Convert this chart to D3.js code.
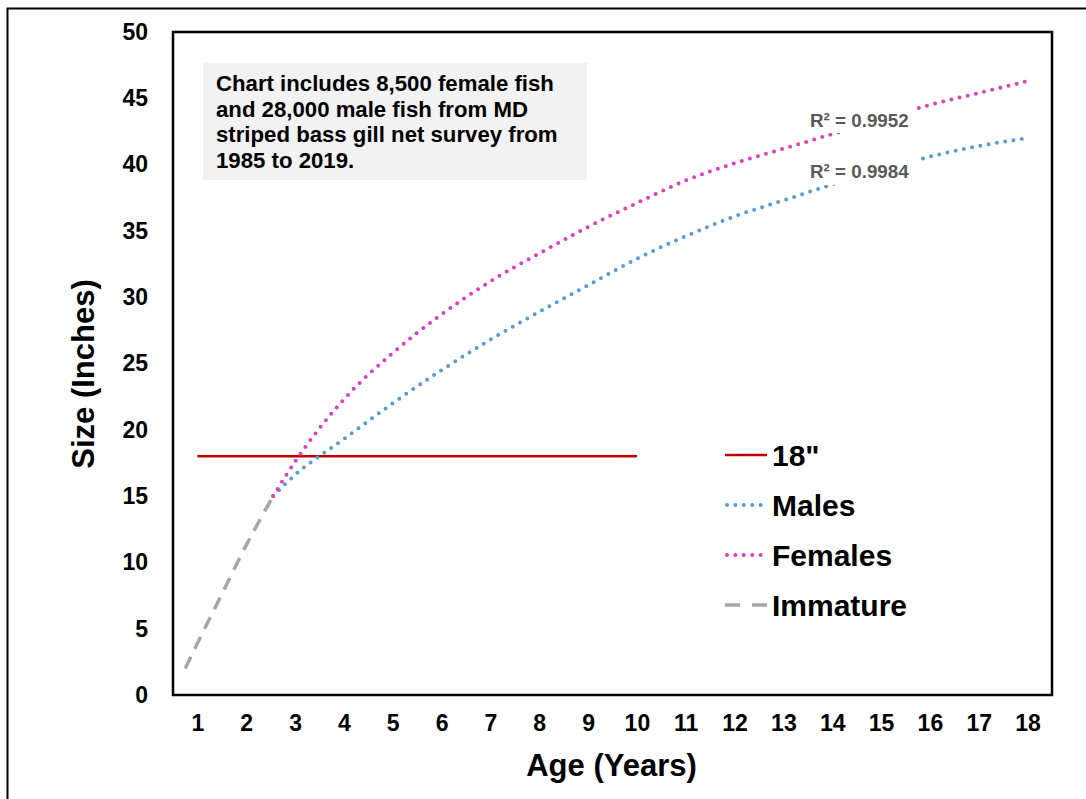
<!DOCTYPE html>
<html>
<head>
<meta charset="utf-8">
<script src="https://cdn.jsdelivr.net/npm/d3@7.9.0/dist/d3.min.js"></script>
<style>
  body { margin: 0; background: #fff; }
  svg { display: block; font-family: Arial, "Liberation Sans", sans-serif; }
</style>
</head>
<body>
<div id="chart"></div>
<script>
// ages on the x axis
const xTicks = d3.range(1, 19);
const yTicks = d3.range(0, 51, 5);

// fitted growth curves (inches)
const curveAges = [2.55, 3, 4, 5, 6, 7, 8, 9, 10, 11, 12, 13, 14, 15, 16, 17, 18];
const femaleSize = [15.0, 17.6, 22.3, 25.8, 28.7, 31.2, 33.3, 35.3, 37.1, 38.8, 40.1, 41.2, 42.3, 43.4, 44.5, 45.4, 46.3];
const maleSize = [15.0, 16.6, 19.3, 22.0, 24.5, 26.8, 28.9, 30.9, 32.9, 34.6, 36.1, 37.3, 38.5, 39.6, 40.6, 41.4, 42.0];

const immatureAges = [0.75, 1, 1.5, 2, 2.55];
const immatureSize = [2.0, 3.9, 7.6, 11.3, 15.0];

const limitAges = [1, 10];
const limitSize = [18, 18];

const rSquared = ['R² = 0.9952', 'R² = 0.9984'];
const legendLabels = ['18"', 'Males', 'Females', 'Immature'];
const note = [
  'Chart includes 8,500 female fish',
  'and 28,000 male fish from MD',
  'striped bass gill net survey from',
  '1985 to 2019.',
];

const width = 1086;
const height = 799;
const area = { left: 173, right: 1052, top: 32, bottom: 695 };

const colors = { limit: '#c00000', male: '#5b9bd5', female: '#dd3fbf', immature: '#a6a6a6' };

const svg = d3.select('#chart')
  .append('svg')
  .attr('width', width)
  .attr('height', height);

// outer frame (only top/left edges visible in the source)
svg.append('rect')
  .attr('x', 7.5).attr('y', 8.5)
  .attr('width', 1200).attr('height', 1000)
  .attr('fill', 'none').attr('stroke', '#000').attr('stroke-width', 2);

const x = d3.scaleLinear().domain([0.5, 18.5]).range([area.left, area.right]);
const y = d3.scaleLinear().domain([0, 50]).range([area.bottom, area.top]);

// y axis labels
const yAxis = svg.append('g')
  .attr('transform', `translate(${area.left - 25}, 0)`)
  .call(d3.axisLeft(y).tickValues(yTicks).tickSize(0).tickPadding(0));
yAxis.select('.domain').remove();
yAxis.selectAll('text')
  .attr('font-size', 23).attr('font-weight', 'bold')
  .attr('font-family', 'Arial, "Liberation Sans", sans-serif')
  .attr('fill', '#000');

// x axis labels
const xAxis = svg.append('g')
  .attr('transform', `translate(0, ${area.bottom + 20})`)
  .call(d3.axisBottom(x).tickValues(xTicks).tickSize(0).tickPadding(0).tickFormat(d3.format('d')));
xAxis.select('.domain').remove();
xAxis.selectAll('text')
  .attr('font-size', 23).attr('font-weight', 'bold')
  .attr('font-family', 'Arial, "Liberation Sans", sans-serif')
  .attr('fill', '#000');

// axis titles
svg.append('text')
  .attr('x', (area.left + area.right) / 2 - 1)
  .attr('y', 776)
  .attr('text-anchor', 'middle')
  .attr('font-size', 31).attr('font-weight', 'bold')
  .text('Age (Years)');

svg.append('text')
  .attr('transform', `translate(94, ${374}) rotate(-90)`)
  .attr('text-anchor', 'middle')
  .attr('font-size', 31).attr('font-weight', 'bold')
  .text('Size (Inches)');

// note box
const noteG = svg.append('g');
noteG.append('rect')
  .attr('x', 203).attr('y', 63)
  .attr('width', 384).attr('height', 117)
  .attr('fill', '#f2f2f2');
noteG.selectAll('text')
  .data(note)
  .join('text')
  .attr('x', 216)
  .attr('y', (d, i) => 91 + i * 25.5)
  .attr('font-size', 22.2).attr('font-weight', 'bold')
  .text((d) => d);

const line = d3.line()
  .x((d) => x(d[0]))
  .y((d) => y(d[1]))
  .curve(d3.curveMonotoneX);

// 18" limit
svg.append('path')
  .attr('d', line(d3.zip(limitAges, limitSize)))
  .attr('fill', 'none').attr('stroke', colors.limit).attr('stroke-width', 2.5);

// immature
svg.append('path')
  .attr('d', line(d3.zip(immatureAges, immatureSize)))
  .attr('fill', 'none').attr('stroke', colors.immature)
  .attr('stroke-width', 3.5).attr('stroke-dasharray', '13 9');

// males / females dotted curves
const dotted = (sel, color) => sel
  .attr('fill', 'none').attr('stroke', color)
  .attr('stroke-width', 4).attr('stroke-linecap', 'round')
  .attr('stroke-dasharray', '0 8.4');

svg.append('path')
  .attr('d', line(d3.zip(curveAges, maleSize)))
  .call(dotted, colors.male);

svg.append('path')
  .attr('d', line(d3.zip(curveAges, femaleSize)))
  .call(dotted, colors.female);

// R² labels with white backing
const rBoxes = [
  { y0: 100, y1: 133, base: 127 },
  { y0: 150, y1: 185, base: 178 },
];
rBoxes.forEach((b, i) => {
  svg.append('rect')
    .attr('x', 805).attr('y', b.y0)
    .attr('width', 112).attr('height', b.y1 - b.y0)
    .attr('fill', '#fff');
  svg.append('text')
    .attr('x', 810).attr('y', b.base)
    .attr('font-size', 18.8).attr('font-weight', 'bold')
    .attr('fill', '#595959')
    .text(rSquared[i]);
});

// plot frame
svg.append('rect')
  .attr('x', area.left).attr('y', area.top)
  .attr('width', area.right - area.left).attr('height', area.bottom - area.top)
  .attr('fill', 'none').attr('stroke', '#000').attr('stroke-width', 2.5);

// legend
const legendStyles = [
  { color: colors.limit, width: 2.5, dash: null, cap: 'butt' },
  { color: colors.male, width: 4, dash: '0 8.4', cap: 'round' },
  { color: colors.female, width: 4, dash: '0 8.4', cap: 'round' },
  { color: colors.immature, width: 3.5, dash: '15 12', cap: 'butt' },
];
const legend = svg.append('g');
legendLabels.forEach((label, i) => {
  const cy = 455 + i * 50;
  const st = legendStyles[i];
  legend.append('line')
    .attr('x1', st.cap === 'round' ? 727 : 725).attr('x2', 767)
    .attr('y1', cy).attr('y2', cy)
    .attr('stroke', st.color).attr('stroke-width', st.width)
    .attr('stroke-linecap', st.cap)
    .attr('stroke-dasharray', st.dash);
  legend.append('text')
    .attr('x', 772).attr('y', cy + 11)
    .attr('font-size', 30).attr('font-weight', 'bold')
    .text(label);
});
</script>
</body>
</html>
